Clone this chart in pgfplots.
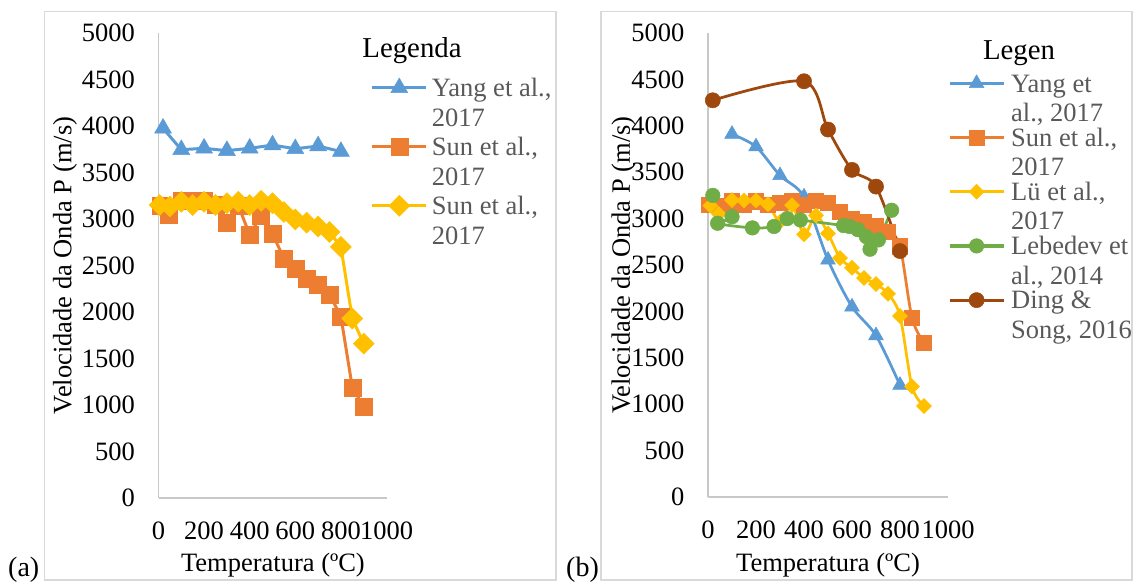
\documentclass[border=0pt]{standalone}
\usepackage{pgfplots}
\pgfplotsset{compat=1.18}
\usepackage{fontspec}
\setmainfont{Liberation Serif}
\definecolor{cblue}{HTML}{5B9BD5}
\definecolor{corange}{HTML}{ED7D31}
\definecolor{cyellow}{HTML}{FFC000}
\definecolor{cgreen}{HTML}{70AD47}
\definecolor{cbrown}{HTML}{9E480E}
\definecolor{axgray}{HTML}{C8C8C8}
\definecolor{frgray}{HTML}{D9D9D9}
\definecolor{lgray}{HTML}{595959}
\newcommand{\f}{\fontsize{26.5bp}{29.5bp}\selectfont}
\newcommand{\ft}{\fontsize{28.8bp}{32bp}\selectfont}
\newcommand{\lgd}[2]{\begin{tabular}[t]{@{}l@{}}#1\\#2\end{tabular}}

\pgfplotsset{
 base/.style={
  scale only axis, xmin=0,xmax=1000,ymin=0,ymax=5000,
  xtick={0,200,...,1000}, ytick={0,500,...,5000},
  axis lines*=left,
  axis line style={draw=axgray, line width=1.5bp},
  major tick length=0pt, tick style={draw=none},
  /pgf/number format/assume math mode=true,
  /pgf/number format/1000 sep={},
  ticklabel style={font=\f, inner sep=0pt},
  yticklabel style={anchor=east, xshift=-23.5bp},
  xticklabel style={anchor=north, yshift=-24bp},
  xlabel={Temperatura (ºC)},
  ylabel={Velocidade da Onda P (m/s)},
  clip=false,
  legend image code/.code={\draw[##1, line width=3.2bp] (0bp,8.7bp) -- (54bp,8.7bp); \draw[mark repeat=2,mark phase=2,##1, draw=none] plot coordinates {(0bp,8.7bp) (27bp,8.7bp) (54bp,8.7bp)};},
 },
}

\pgfplotstableread{
x y
20 3975
100 3745
200 3760
300 3735
400 3760
500 3795
600 3755
700 3785
800 3725
}\yangA
\pgfplotstableread{
x y
10 3140
45 3050
100 3200
150 3195
200 3195
250 3155
300 2965
350 3145
400 2830
450 3035
500 2840
550 2575
600 2470
650 2360
700 2295
750 2190
800 1950
850 1190
900 980
}\sunOne
\pgfplotstableread{
x y
5 3150
50 3135
100 3185
150 3150
200 3185
250 3150
300 3170
350 3185
400 3150
450 3195
500 3170
550 3075
600 2995
650 2960
700 2920
750 2860
800 2700
850 1930
900 1660
}\sunTwo
\pgfplotstableread{
x y
100 3910
200 3775
300 3465
400 3235
500 2555
600 2050
700 1740
800 1205
}\yangB
\pgfplotstableread{
x y
20 3250
100 3020
40 2950
185 2900
275 2915
330 3000
385 2985
565 2925
590 2915
625 2880
660 2805
675 2670
710 2770
765 3090
}\lebedev
\pgfplotstableread{
x y
20 4275
400 4480
500 3960
600 3525
700 3345
800 2650
}\ding

\begin{document}
\begin{tikzpicture}
\path[use as bounding box] (0,0) rectangle (1136bp,582bp);
\draw[frgray, line width=1.5bp] (44.5bp,2bp) rectangle (556bp,570.5bp);
\draw[frgray, line width=1.5bp] (601bp,2bp) rectangle (1132bp,570.5bp);
\node[font=\ft, anchor=base] at (412bp,524.5bp) {Legenda};
\node[font=\ft, anchor=base] at (1019bp,522bp) {Legen};
\node[font=\fontsize{28bp}{32bp}\selectfont, anchor=base west, inner sep=0pt] at (8bp,5.5bp) {(a)};
\node[font=\fontsize{28bp}{32bp}\selectfont, anchor=base west, inner sep=0pt] at (566bp,5.5bp) {(b)};

\begin{axis}[base, at={(158.5bp,84bp)}, anchor=south west, width=228bp, height=465bp,
  every axis y label/.style={at={(axis description cs:-0.41,0.5)}, rotate=90, anchor=center, font=\f},
  every axis x label/.style={at={(axis description cs:0.502,-0.144)}, anchor=center, font=\f},
  legend style={at={(0.9307,0.9078)}, anchor=north west, draw=none, fill=none, inner sep=0pt, outer sep=0pt,
     font=\f, text=lgray, column sep=4bp, row sep=0bp,
     nodes={inner sep=0pt, anchor=base west, text=lgray, text height=20.65bp, text depth=38.35bp}}]
\addplot[cblue, line width=3bp, mark=triangle*, mark size=9.8bp, mark options={solid, fill=cblue, draw=cblue, line width=0.5bp}] table {\yangA};
\addlegendentry{\lgd{Yang et al.,}{2017}}
\addplot[corange, line width=3bp, mark=square*, mark size=8.5bp, mark options={solid, fill=corange, draw=corange, line width=0.5bp}] table {\sunOne};
\addlegendentry{\lgd{Sun et al.,}{2017}}
\addplot[cyellow, line width=3bp, mark=square*, mark size=7.4bp, mark options={solid, rotate=45, fill=cyellow, draw=cyellow, line width=0.5bp}] table {\sunTwo};
\addlegendentry{\lgd{Sun et al.,}{2017}}
\end{axis}

\begin{axis}[base, at={(708bp,85bp)}, anchor=south west, width=240bp, height=464bp,
  every axis y label/.style={at={(axis description cs:-0.352,0.5)}, rotate=90, anchor=center, font=\f},
  every axis x label/.style={at={(axis description cs:0.5,-0.146)}, anchor=center, font=\f},
  legend style={at={(1.0,0.9173)}, anchor=north west, draw=none, fill=none, inner sep=0pt, outer sep=0pt,
     font=\f, text=lgray, column sep=6bp, row sep=0bp,
     nodes={inner sep=0pt, anchor=base west, text=lgray, text height=20.65bp, text depth=33.55bp}}]
\addplot[cblue, line width=2.75bp, smooth, tension=0.5, mark=triangle*, mark size=8.5bp, mark options={solid, fill=cblue, draw=cblue, line width=0.5bp}] table {\yangB};
\addlegendentry{\lgd{Yang et}{al., 2017}}
\addplot[corange, line width=2.75bp, smooth, tension=0.5, mark=square*, mark size=7.7bp, mark options={solid, fill=corange, draw=corange, line width=0.5bp}] table {\sunTwo};
\addlegendentry{\lgd{Sun et al.,}{2017}}
\addplot[cyellow, line width=2.75bp, smooth, tension=0.5, mark=square*, mark size=5.3bp, mark options={solid, rotate=45, fill=cyellow, draw=cyellow, line width=0.5bp}] table {\sunOne};
\addlegendentry{\lgd{Lü et al.,}{2017}}
\addplot[cgreen, line width=2.75bp, smooth, tension=0.5, mark=*, mark size=7.3bp, mark options={solid, fill=cgreen, draw=cgreen, line width=0.5bp}] table {\lebedev};
\addlegendentry{\lgd{Lebedev et}{al., 2014}}
\addplot[cbrown, line width=2.75bp, smooth, tension=0.5, mark=*, mark size=7.6bp, mark options={solid, fill=cbrown, draw=cbrown, line width=0.5bp}] table {\ding};
\addlegendentry{\lgd{Ding \&}{Song, 2016}}
\end{axis}
\end{tikzpicture}
\end{document}
